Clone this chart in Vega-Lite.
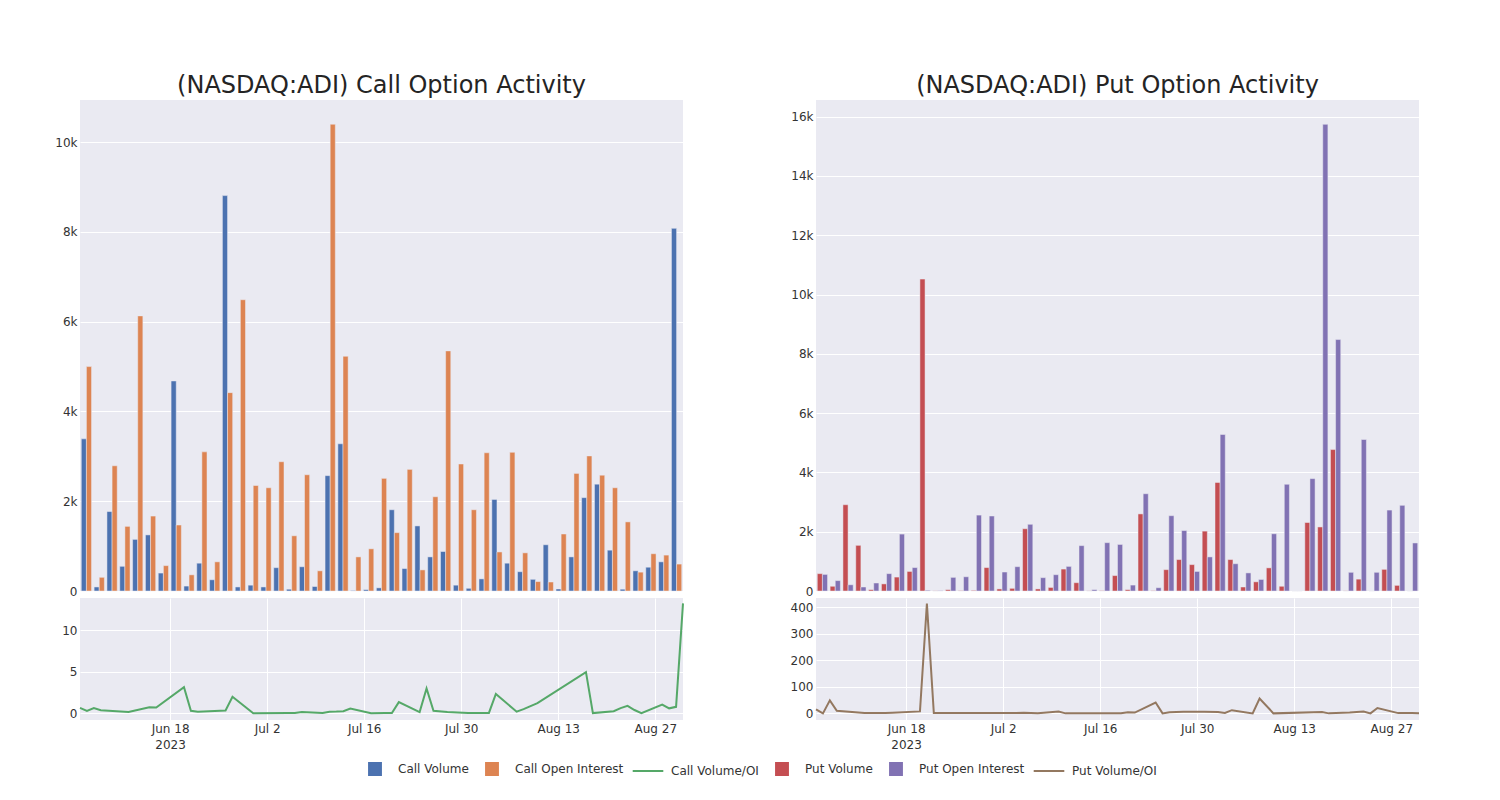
{
  "$schema": "https://vega.github.io/schema/vega-lite/v6.json",
  "background": "white",
  "padding": {"left": 54, "top": 74, "right": 5, "bottom": 5},
  "data": {"values": [
    {"date":"2023-06-05","cv":3390,"coi":5000,"cr":0.65,"pv":585,"poi":560,"pr":15},
    {"date":"2023-06-06","cv":90,"coi":305,"cr":0.3,"pv":160,"poi":350,"pr":0},
    {"date":"2023-06-07","cv":1770,"coi":2790,"cr":0.63,"pv":2910,"poi":210,"pr":49},
    {"date":"2023-06-08","cv":550,"coi":1440,"cr":0.38,"pv":1540,"poi":135,"pr":10},
    {"date":"2023-06-12","cv":1150,"coi":6130,"cr":0.15,"pv":45,"poi":270,"pr":1},
    {"date":"2023-06-15","cv":1250,"coi":1670,"cr":0.72,"pv":240,"poi":585,"pr":1},
    {"date":"2023-06-16","cv":400,"coi":565,"cr":0.7,"pv":470,"poi":1920,"pr":2},
    {"date":"2023-06-20","cv":4680,"coi":1470,"cr":3.15,"pv":660,"poi":790,"pr":7.5},
    {"date":"2023-06-21","cv":110,"coi":360,"cr":0.3,"pv":10520,"poi":25,"pr":414},
    {"date":"2023-06-22","cv":620,"coi":3100,"cr":0.2,"pv":5,"poi":10,"pr":1.5},
    {"date":"2023-06-26","cv":250,"coi":650,"cr":0.35,"pv":45,"poi":460,"pr":1},
    {"date":"2023-06-27","cv":8810,"coi":4420,"cr":2.0,"pv":10,"poi":480,"pr":1},
    {"date":"2023-06-30","cv":90,"coi":6490,"cr":0.02,"pv":20,"poi":2560,"pr":1},
    {"date":"2023-07-05","cv":130,"coi":2350,"cr":0.05,"pv":790,"poi":2530,"pr":2},
    {"date":"2023-07-06","cv":90,"coi":2300,"cr":0.04,"pv":70,"poi":640,"pr":1.5},
    {"date":"2023-07-07","cv":520,"coi":2880,"cr":0.17,"pv":90,"poi":820,"pr":0},
    {"date":"2023-07-10","cv":40,"coi":1230,"cr":0.03,"pv":2100,"poi":2250,"pr":7},
    {"date":"2023-07-11","cv":540,"coi":2590,"cr":0.2,"pv":70,"poi":450,"pr":0},
    {"date":"2023-07-12","cv":100,"coi":450,"cr":0.21,"pv":120,"poi":550,"pr":0},
    {"date":"2023-07-13","cv":2570,"coi":10400,"cr":0.25,"pv":740,"poi":830,"pr":0},
    {"date":"2023-07-14","cv":3280,"coi":5230,"cr":0.58,"pv":280,"poi":1530,"pr":0},
    {"date":"2023-07-17","cv":10,"coi":760,"cr":0.01,"pv":5,"poi":45,"pr":0},
    {"date":"2023-07-19","cv":30,"coi":940,"cr":0.03,"pv":10,"poi":1630,"pr":0.5},
    {"date":"2023-07-20","cv":70,"coi":2510,"cr":0.03,"pv":520,"poi":1570,"pr":4.5},
    {"date":"2023-07-21","cv":1810,"coi":1300,"cr":1.35,"pv":45,"poi":200,"pr":3},
    {"date":"2023-07-24","cv":500,"coi":2710,"cr":0.15,"pv":2600,"poi":3280,"pr":41},
    {"date":"2023-07-25","cv":1450,"coi":470,"cr":3.0,"pv":10,"poi":110,"pr":0},
    {"date":"2023-07-26","cv":760,"coi":2100,"cr":0.3,"pv":720,"poi":2540,"pr":4},
    {"date":"2023-07-28","cv":880,"coi":5350,"cr":0.17,"pv":1060,"poi":2040,"pr":6},
    {"date":"2023-07-31","cv":130,"coi":2830,"cr":0.05,"pv":890,"poi":660,"pr":6},
    {"date":"2023-08-02","cv":60,"coi":1810,"cr":0.03,"pv":2020,"poi":1150,"pr":5},
    {"date":"2023-08-03","cv":270,"coi":3080,"cr":0.05,"pv":3660,"poi":5280,"pr":1.5},
    {"date":"2023-08-04","cv":2040,"coi":870,"cr":2.32,"pv":1060,"poi":920,"pr":12},
    {"date":"2023-08-07","cv":620,"coi":3090,"cr":0.2,"pv":135,"poi":610,"pr":0},
    {"date":"2023-08-08","cv":430,"coi":850,"cr":0.51,"pv":310,"poi":390,"pr":56},
    {"date":"2023-08-10","cv":260,"coi":210,"cr":1.22,"pv":780,"poi":1930,"pr":0},
    {"date":"2023-08-17","cv":1030,"coi":200,"cr":4.95,"pv":160,"poi":3600,"pr":5},
    {"date":"2023-08-18","cv":45,"coi":1270,"cr":0.03,"pv":0,"poi":0,"pr":0},
    {"date":"2023-08-21","cv":760,"coi":2620,"cr":0.26,"pv":2310,"poi":3790,"pr":3},
    {"date":"2023-08-22","cv":2080,"coi":3010,"cr":0.62,"pv":2160,"poi":15740,"pr":5},
    {"date":"2023-08-23","cv":2380,"coi":2580,"cr":0.9,"pv":4770,"poi":8480,"pr":7},
    {"date":"2023-08-24","cv":910,"coi":2300,"cr":0.4,"pv":5,"poi":630,"pr":0},
    {"date":"2023-08-25","cv":40,"coi":1540,"cr":0.03,"pv":400,"poi":5110,"pr":20},
    {"date":"2023-08-28","cv":450,"coi":420,"cr":1.06,"pv":0,"poi":630,"pr":1},
    {"date":"2023-08-29","cv":530,"coi":830,"cr":0.6,"pv":730,"poi":2730,"pr":1},
    {"date":"2023-08-30","cv":650,"coi":800,"cr":0.78,"pv":190,"poi":2890,"pr":1},
    {"date":"2023-08-31","cv":8080,"coi":600,"cr":13.2,"pv":0,"poi":1620,"pr":0.5}
  ]},
  "config": {
    "view": {"fill": "#EAEAF2", "stroke": null},
    "font": "DejaVu Sans",
    "axis": {"gridColor": "#FFFFFF", "gridWidth": 1, "domain": false, "ticks": false, "labelFont": "DejaVu Sans", "labelFontSize": 12, "labelColor": "#333333", "title": null, "labelPadding": 3},
    "legend": {"symbolSize": 1296, "labelOffset": 4, "columnPadding": 4, "labelFont": "DejaVu Sans", "labelFontSize": 12, "labelColor": "#333333", "labelLimit": 300, "direction": "horizontal", "orient": "none", "legendX": 276, "legendY": 650, "symbolStrokeWidth": 2}
  },
  "spacing": 103,
  "resolve": {"scale": {"color": "shared"}, "legend": {"color": "shared"}},
  "hconcat": [
    {
      "spacing": 1,
      "vconcat": [
        {
          "width": 603, "height": 491,
          "title": {"text": "(NASDAQ:ADI) Call Option Activity", "frame": "group", "anchor": "middle", "fontSize": 24, "font": "DejaVu Sans", "fontWeight": "normal", "color": "#242424", "offset": 2},
          "encoding": {
            "x": {"field": "date", "type": "ordinal", "scale": {"paddingInner": 0.2, "paddingOuter": 0.1}, "axis": {"labels": false, "grid": true, "bandPosition": 0.5, "values": ["2023-06-05","2023-06-26","2023-07-14","2023-08-02","2023-08-23"]}}
          },
          "layer": [
            {
              "mark": {"type": "bar", "width": {"band": 0.5}, "xOffset": -2.565, "stroke": "#EAEAF2", "strokeWidth": 0.5},
              "encoding": {
                "y": {"field": "cv", "type": "quantitative", "scale": {"domain": [0, 10940], "nice": false}, "axis": {"values": [0,2000,4000,6000,8000,10000], "labelExpr": "datum.value === 0 ? '0' : (datum.value / 1000) + 'k'"}},
                "color": {"datum": "cv",
                  "scale": {"domain": ["cv","coi","cr","pv","poi","pr"], "range": ["#4C72B0","#DD8452","#55A868","#C44E52","#8172B3","#937860"]},
                  "legend": {
                    "title": null, "orient": "none", "legendX": 276, "legendY": 650, "direction": "horizontal",
                    "symbolSize": 1296, "labelOffset": 4, "columnPadding": 4, "symbolStrokeWidth": 2,
                    "labelFont": "DejaVu Sans", "labelFontSize": 12, "labelColor": "#333333", "labelLimit": 300,
                    "labelExpr": "({'cv':'Call Volume','coi':'Call Open Interest','cr':'Call Volume/OI','pv':'Put Volume','poi':'Put Open Interest','pr':'Put Volume/OI'})[datum.value]",
                    "encoding": {"symbols": {
                      "shape": {"value": {"expr": "(datum.value === 'cr' || datum.value === 'pr') ? 'M-0.85,0H0.85' : 'M-0.33,-0.33H0.33V0.33H-0.33Z'"}},
                      "fill": {"value": {"expr": "(datum.value === 'cr' || datum.value === 'pr') ? 'transparent' : ({'cv':'#4C72B0','coi':'#DD8452','pv':'#C44E52','poi':'#8172B3'})[datum.value]"}},
                      "stroke": {"value": {"expr": "(datum.value === 'cr' || datum.value === 'pr') ? ({'cr':'#55A868','pr':'#937860'})[datum.value] : 'transparent'"}},
                      "opacity": {"value": 1}
                    }}
                  }
                }
              }
            },
            {
              "mark": {"type": "bar", "width": {"band": 0.5}, "xOffset": 2.565, "stroke": "#EAEAF2", "strokeWidth": 0.5},
              "encoding": {
                "y": {"field": "coi", "type": "quantitative", "scale": {"domain": [0, 10940], "nice": false}},
                "color": {"datum": "coi", "scale": {"domain": ["cv","coi","cr","pv","poi","pr"], "range": ["#4C72B0","#DD8452","#55A868","#C44E52","#8172B3","#937860"]}}
              }
            }
          ]
        },
        {
          "width": 603, "height": 122,
          "mark": {"type": "line", "strokeWidth": 2},
          "encoding": {
            "x": {"field": "date", "type": "temporal", "scale": {"type": "utc", "domain": [{"year":2023,"month":6,"date":5,"utc":true},{"year":2023,"month":8,"date":31,"utc":true}]},
              "axis": {"grid": true, "labelLineHeight": 16, "values": [{"year":2023,"month":6,"date":18,"utc":true},{"year":2023,"month":7,"date":2,"utc":true},{"year":2023,"month":7,"date":16,"utc":true},{"year":2023,"month":7,"date":30,"utc":true},{"year":2023,"month":8,"date":13,"utc":true},{"year":2023,"month":8,"date":27,"utc":true}],
                "labelExpr": "utcFormat(datum.value, '%b %-d') == 'Jun 18' ? ['Jun 18', '2023'] : utcFormat(datum.value, '%b %-d')"}},
            "y": {"field": "cr", "type": "quantitative", "scale": {"domain": [-0.8, 13.85], "nice": false, "zero": false}, "axis": {"values": [0, 5, 10]}},
            "color": {"datum": "cr", "scale": {"domain": ["cv","coi","cr","pv","poi","pr"], "range": ["#4C72B0","#DD8452","#55A868","#C44E52","#8172B3","#937860"]}}
          }
        }
      ]
    },
    {
      "spacing": 1,
      "vconcat": [
        {
          "width": 603, "height": 491,
          "title": {"text": "(NASDAQ:ADI) Put Option Activity", "frame": "group", "anchor": "middle", "fontSize": 24, "font": "DejaVu Sans", "fontWeight": "normal", "color": "#242424", "offset": 2},
          "encoding": {
            "x": {"field": "date", "type": "ordinal", "scale": {"paddingInner": 0.2, "paddingOuter": 0.1}, "axis": {"labels": false, "grid": true, "bandPosition": 0.5, "values": ["2023-06-05","2023-06-26","2023-07-14","2023-08-02","2023-08-23"]}}
          },
          "layer": [
            {
              "mark": {"type": "bar", "width": {"band": 0.5}, "xOffset": -2.565, "stroke": "#EAEAF2", "strokeWidth": 0.5},
              "encoding": {
                "y": {"field": "pv", "type": "quantitative", "scale": {"domain": [0, 16560], "nice": false}, "axis": {"values": [0,2000,4000,6000,8000,10000,12000,14000,16000], "labelExpr": "datum.value === 0 ? '0' : (datum.value / 1000) + 'k'"}},
                "color": {"datum": "pv", "scale": {"domain": ["cv","coi","cr","pv","poi","pr"], "range": ["#4C72B0","#DD8452","#55A868","#C44E52","#8172B3","#937860"]}}
              }
            },
            {
              "mark": {"type": "bar", "width": {"band": 0.5}, "xOffset": 2.565, "stroke": "#EAEAF2", "strokeWidth": 0.5},
              "encoding": {
                "y": {"field": "poi", "type": "quantitative", "scale": {"domain": [0, 16560], "nice": false}},
                "color": {"datum": "poi", "scale": {"domain": ["cv","coi","cr","pv","poi","pr"], "range": ["#4C72B0","#DD8452","#55A868","#C44E52","#8172B3","#937860"]}}
              }
            }
          ]
        },
        {
          "width": 603, "height": 122,
          "mark": {"type": "line", "strokeWidth": 2},
          "encoding": {
            "x": {"field": "date", "type": "temporal", "scale": {"type": "utc", "domain": [{"year":2023,"month":6,"date":5,"utc":true},{"year":2023,"month":8,"date":31,"utc":true}]},
              "axis": {"grid": true, "labelLineHeight": 16, "values": [{"year":2023,"month":6,"date":18,"utc":true},{"year":2023,"month":7,"date":2,"utc":true},{"year":2023,"month":7,"date":16,"utc":true},{"year":2023,"month":7,"date":30,"utc":true},{"year":2023,"month":8,"date":13,"utc":true},{"year":2023,"month":8,"date":27,"utc":true}],
                "labelExpr": "utcFormat(datum.value, '%b %-d') == 'Jun 18' ? ['Jun 18', '2023'] : utcFormat(datum.value, '%b %-d')"}},
            "y": {"field": "pr", "type": "quantitative", "scale": {"domain": [-25, 435], "nice": false, "zero": false}, "axis": {"values": [0, 100, 200, 300, 400]}},
            "color": {"datum": "pr", "scale": {"domain": ["cv","coi","cr","pv","poi","pr"], "range": ["#4C72B0","#DD8452","#55A868","#C44E52","#8172B3","#937860"]}}
          }
        }
      ]
    }
  ]
}
